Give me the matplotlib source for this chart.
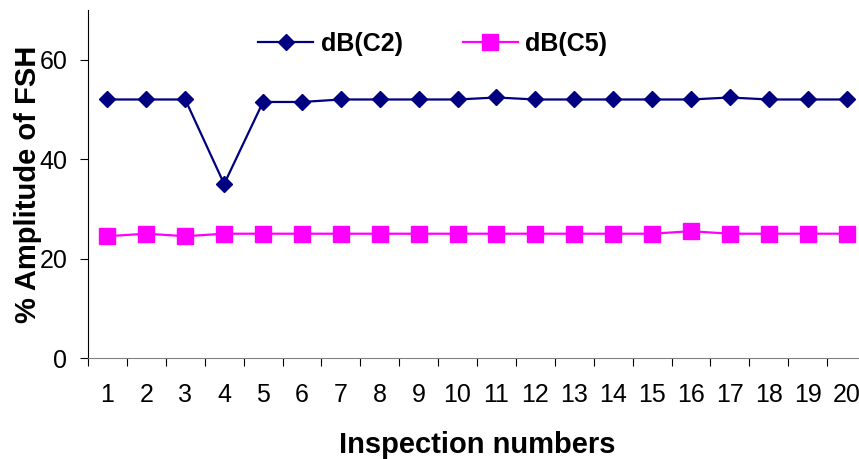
import numpy as np
import matplotlib
matplotlib.use("Agg")
import matplotlib.pyplot as plt

plt.rcParams['font.family'] = ['Liberation Sans', 'DejaVu Sans']

# inspection runs and measured amplitudes (% FSH)
inspections = list(range(1, 21))
c2_amp = [52, 52, 52, 35, 51.5, 51.5, 52, 52, 52, 52,
          52.4, 52, 52, 52, 52, 52, 52.4, 52, 52, 52]
c5_amp = [24.5, 25, 24.5, 25, 25, 25, 25, 25, 25, 25,
          25, 25, 25, 25, 25, 25.5, 25, 25, 25, 25]

fig = plt.figure(figsize=(8.59, 4.59), dpi=100)
ax = fig.add_axes([88/859, 101/459, 778/859, 348/459])

ax.plot(inspections, c2_amp, color='#000080', lw=1.6, marker='D', ms=8.5,
        mec='#000080', label='dB(C2)')
ax.plot(inspections, c5_amp, color='#FF00FF', lw=1.6, marker='s', ms=11.5,
        mec='#FF00FF', label='dB(C5)')

ax.set_xlim(0.5, 20.5)
ax.set_ylim(0, 70)
ax.set_yticks([0, 20, 40, 60])
ax.set_xticks(inspections)
# category boundaries carry the x tick marks
ax.set_xticks(np.arange(0.5, 21, 1), minor=True)
ax.tick_params(axis='x', which='major', length=0, pad=18, labelsize=18)
ax.tick_params(axis='x', which='minor', length=6, width=0.8, direction='out')
ax.tick_params(axis='y', length=6, width=0.8, direction='out', labelsize=18, pad=9)

for s in ['top', 'right']:
    ax.spines[s].set_visible(False)
ax.spines['left'].set_linewidth(0.8)
ax.spines['bottom'].set_linewidth(0.8)
ax.spines['bottom'].set_color('#808080')

ax.set_xlabel('Inspection numbers', fontsize=21, fontweight='bold', labelpad=17)
ax.set_ylabel('% Amplitude of FSH', fontsize=21, fontweight='bold', labelpad=-2)

fig.legend(handles=ax.get_lines(), loc='center left',
           bbox_to_anchor=(258/859, 1 - 44/459), ncol=2, frameon=False,
           prop={'size': 18, 'weight': 'bold'}, handlelength=2.2,
           columnspacing=2.4, handletextpad=0.3, borderpad=0, borderaxespad=0)

fig.savefig('out.png', dpi=100)
